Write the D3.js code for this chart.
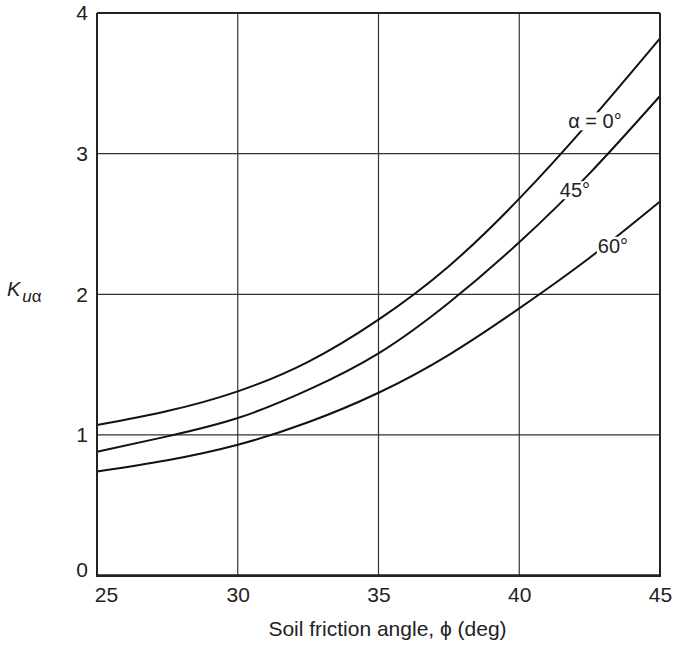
<!DOCTYPE html>
<html>
<head>
<meta charset="utf-8">
<script src="https://cdn.jsdelivr.net/npm/d3@7"></script>
<style>
  html, body { margin: 0; padding: 0; background: #fff; }
  svg { display: block; font-family: "Liberation Sans", Arial, Helvetica, sans-serif; }
</style>
</head>
<body>
<svg id="chart" width="675" height="646"></svg>
<script>
const phi = [25, 27.5, 30, 32.5, 35, 37.5, 40, 42.5, 45];
const kAlpha0 = [1.07, 1.17, 1.31, 1.52, 1.82, 2.20, 2.68, 3.23, 3.82];
const kAlpha45 = [0.88, 0.99, 1.12, 1.32, 1.58, 1.94, 2.37, 2.86, 3.41];
const kAlpha60 = [0.74, 0.82, 0.93, 1.09, 1.30, 1.57, 1.90, 2.26, 2.66];
const xTicks = [25, 30, 35, 40, 45];
const yTicks = [0, 1, 2, 3, 4];
const curveLabels = ["\u03B1 = 0\u00B0", "45\u00B0", "60\u00B0"];
const labelAt = [{phi: 42.69, k: 3.23}, {phi: 41.98, k: 2.74}, {phi: 43.33, k: 2.345}];

const svg = d3.select("#chart");
const x = d3.scaleLinear().domain([25, 45]).range([97, 660]);
const y = d3.scaleLinear().domain([0, 4]).range([575.6, 13]);

// gridlines
const grid = svg.append("g");
grid.selectAll("line.vx").data(xTicks.slice(1, -1)).enter().append("line")
  .attr("x1", d => x(d)).attr("x2", d => x(d)).attr("y1", y(0)).attr("y2", y(4))
  .attr("stroke", "#333").attr("stroke-width", 1.2);
grid.selectAll("line.hy").data(yTicks.slice(1, -1)).enter().append("line")
  .attr("y1", d => y(d)).attr("y2", d => y(d)).attr("x1", x(25)).attr("x2", x(45))
  .attr("stroke", "#333").attr("stroke-width", 1.2);

// curves
const series = [kAlpha0, kAlpha45, kAlpha60];
const line = d3.line().x(d => x(d[0])).y(d => y(d[1])).curve(d3.curveNatural);
svg.append("g").selectAll("path").data(series).enter().append("path")
  .attr("d", s => line(phi.map((p, i) => [p, s[i]])))
  .attr("fill", "none").attr("stroke", "#111").attr("stroke-width", 2);

// curve labels with white background
const lg = svg.append("g");
curveLabels.forEach((t, i) => {
  const g = lg.append("g");
  const txt = g.append("text")
    .attr("x", x(labelAt[i].phi)).attr("y", y(labelAt[i].k))
    .attr("text-anchor", "middle").attr("dominant-baseline", "central")
    .attr("font-size", 20).attr("fill", "#222").text(t);
  const bb = txt.node().getBBox();
  g.insert("rect", "text").attr("x", bb.x - 1).attr("y", bb.y + 2)
    .attr("width", bb.width + 2).attr("height", bb.height - 4).attr("fill", "#fff");
});

// frame
const fr = svg.append("g").attr("stroke", "#222").attr("fill", "none");
fr.append("line").attr("x1", x(25)).attr("x2", x(45)).attr("y1", y(4)).attr("y2", y(4)).attr("stroke-width", 2);
fr.append("line").attr("x1", x(25)).attr("x2", x(25)).attr("y1", y(4)).attr("y2", y(0)).attr("stroke-width", 2);
fr.append("line").attr("x1", x(45)).attr("x2", x(45)).attr("y1", y(4)).attr("y2", y(0)).attr("stroke-width", 2);
fr.append("line").attr("x1", x(25) - 1).attr("x2", x(45) + 1).attr("y1", y(0)).attr("y2", y(0)).attr("stroke-width", 2.8);

// axes (labels only)
const xAxis = d3.axisBottom(x).tickValues(xTicks).tickSize(0).tickPadding(0).tickFormat(d3.format("d"));
const xg = svg.append("g").attr("transform", `translate(0,${y(0) + 11})`).call(xAxis);
xg.select(".domain").remove();
xg.selectAll("text").attr("font-size", 21).attr("fill", "#222")
  .attr("font-family", "Liberation Sans, Arial, sans-serif")
  .attr("dx", d => d === 25 ? 9 : 0);

const yAxis = d3.axisLeft(y).tickValues(yTicks).tickSize(0).tickPadding(0).tickFormat(d3.format("d"));
const yg = svg.append("g").attr("transform", `translate(${x(25) - 9},0)`).call(yAxis);
yg.select(".domain").remove();
yg.selectAll("text").attr("font-size", 21).attr("fill", "#222")
  .attr("font-family", "Liberation Sans, Arial, sans-serif")
  .attr("dy", d => d === 0 ? "0.05em" : "0.32em");

// axis titles
svg.append("text").attr("x", 387.5).attr("y", 636).attr("text-anchor", "middle")
  .attr("font-size", 21).attr("fill", "#222").text("Soil friction angle, \u03D5 (deg)");

const yt = svg.append("text").attr("x", 7).attr("y", 296).attr("fill", "#222").attr("font-size", 20);
yt.append("tspan").attr("font-style", "italic").text("K");
yt.append("tspan").attr("font-style", "italic").attr("font-size", 17).attr("dy", 6).attr("dx", 2).text("u");
yt.append("tspan").attr("font-size", 17).text("\u03B1");
</script>
</body>
</html>
